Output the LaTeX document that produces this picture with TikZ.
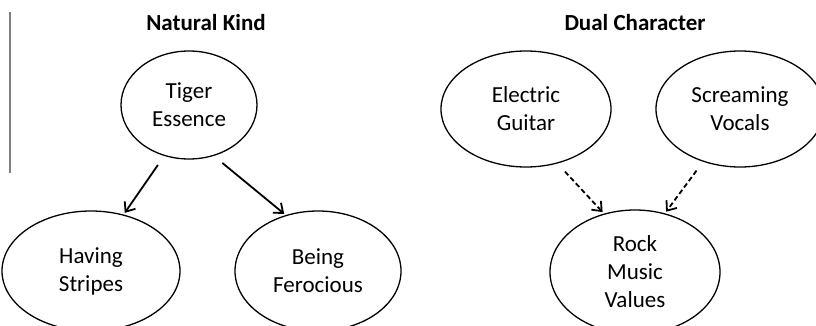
\documentclass[tikz,border=0pt]{standalone}
\usepackage{fontspec}
\setmainfont{Carlito}
\usetikzlibrary{shapes,arrows,arrows.meta,calc}
\tikzstyle{concept}=[ellipse,
                     draw=black,
                     line width=1.3pt,
                     inner sep=0pt,
                     align=center,
                     font=\fontsize{23}{28}\selectfont]
\tikzstyle{heading}=[font=\bfseries\fontsize{23}{26}\selectfont]
\tikzstyle{link}=[-{Straight Barb[length=8pt,width=13pt]}, line width=1.8pt, shorten <=11pt, shorten >=2pt]
\begin{document}
\begin{tikzpicture}[x=1pt,y=-1pt]
    \useasboundingbox (0,0) rectangle (816,326);
    \draw[gray, line width=1.5pt] (10,12) -- (10,173);
    % natural kind
    \node[heading] (natural) at (206,23) {Natural Kind};
    \node[concept, minimum width=136pt, minimum height=108pt] (tiger) at (189,105) {Tiger\\Essence};
    \node[concept, minimum width=178pt, minimum height=120pt] (having) at (91,271) {Having\\Stripes};
    \node[concept, minimum width=166pt, minimum height=120pt] (being) at (318,271) {Being\\Ferocious};
    \draw[link] (tiger.244) -- (having.60);
    \draw[link] (tiger.296) -- (being.120);
    % dual character
    \node[heading] (dual) at (635,23) {Dual Character};
    \node[concept, minimum width=170pt, minimum height=116pt] (guitar) at (526,109) {Electric\\Guitar};
    \node[concept, minimum width=168pt, minimum height=116pt] (vocals) at (740,109) {Screaming\\Vocals};
    \node[concept, minimum width=170pt, minimum height=124pt] (rock) at (635,272) {Rock\\Music\\Values};
    \draw[link, dash pattern=on 5pt off 3pt] (guitar.300) -- (rock.118);
    \draw[link, dash pattern=on 5pt off 3pt] (vocals.235) -- (rock.63);
\end{tikzpicture}
\end{document}
